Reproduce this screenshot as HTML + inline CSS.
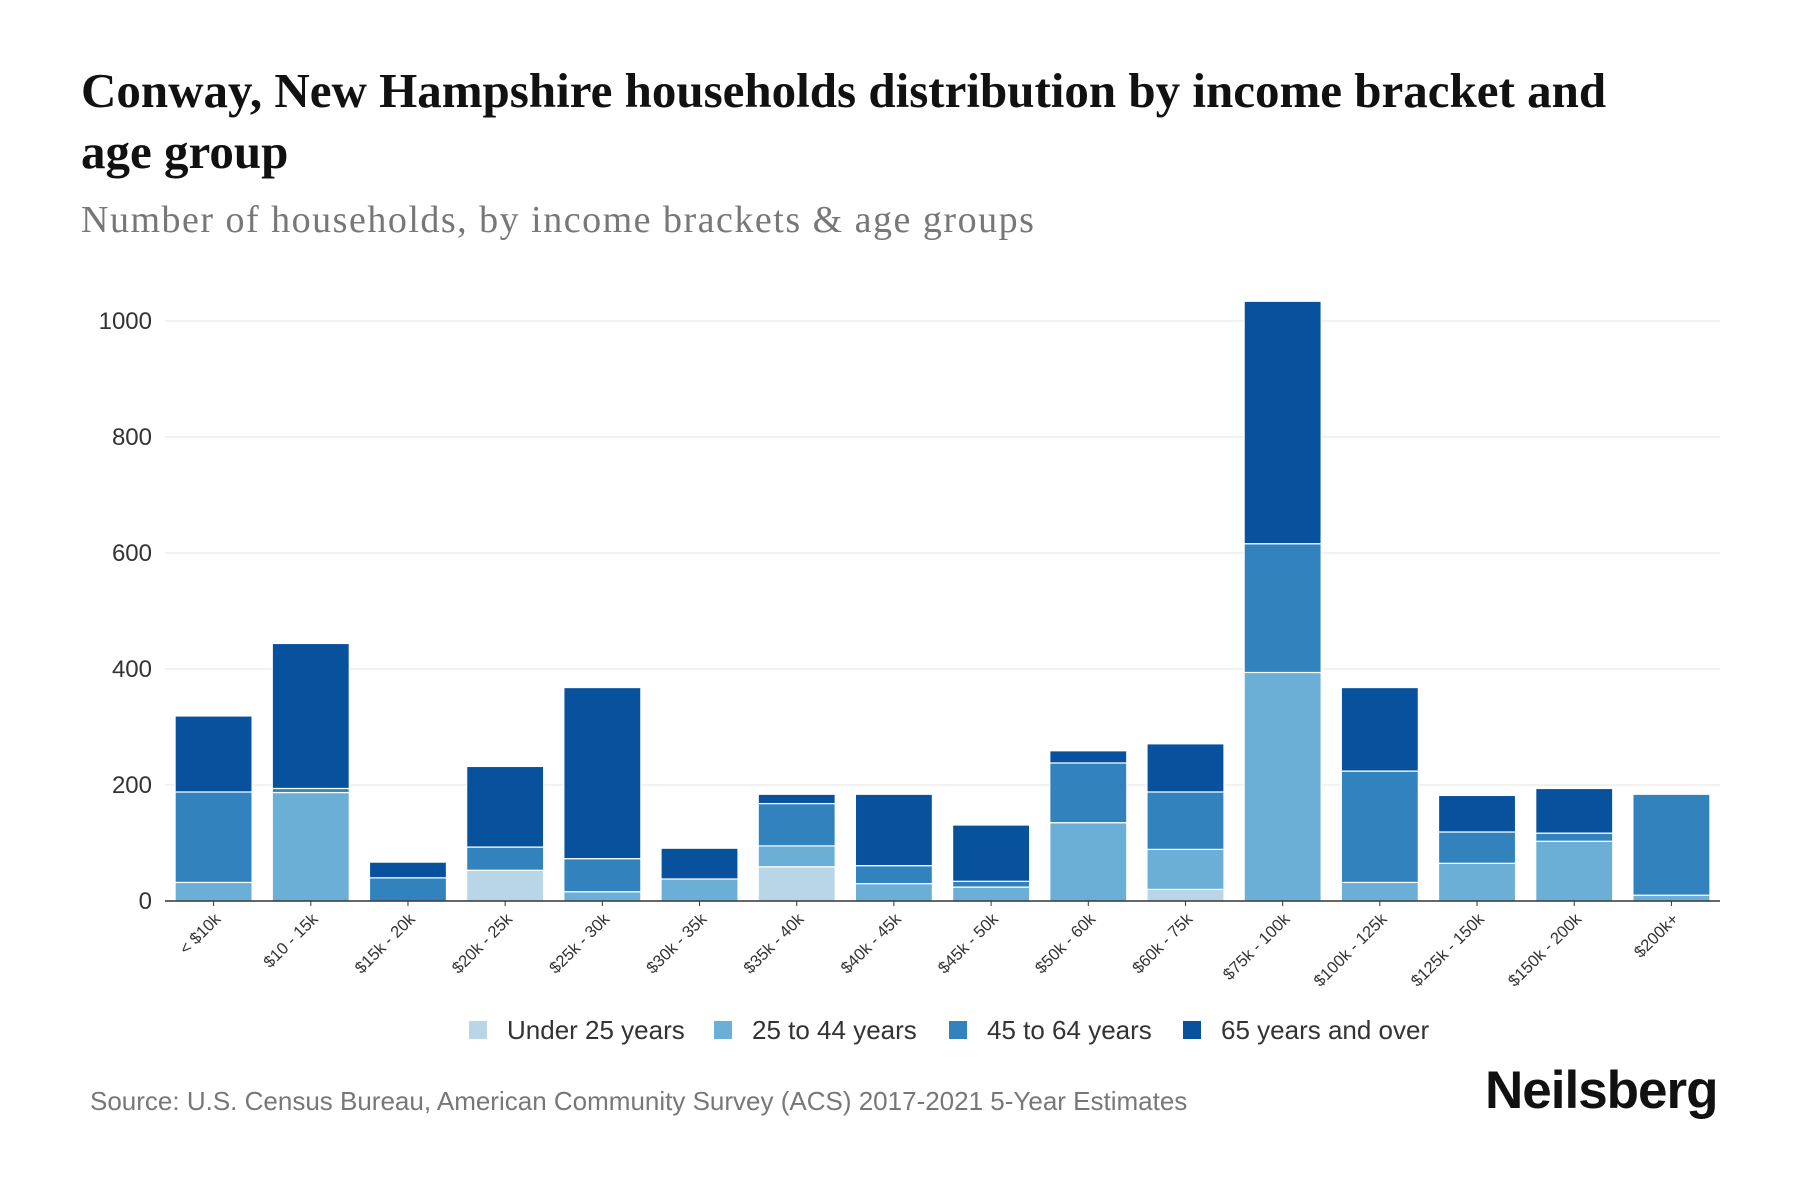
<!DOCTYPE html>
<html><head><meta charset="utf-8"><style>
body{margin:0;width:1800px;height:1200px;background:#fff;overflow:hidden;position:relative;font-family:"Liberation Sans",sans-serif}
#title{position:absolute;left:81px;top:60px;width:1580px;font-family:"Liberation Serif",serif;font-weight:bold;font-size:49px;line-height:61px;color:#111}
#subtitle{position:absolute;left:81px;top:198px;font-family:"Liberation Serif",serif;font-size:38px;letter-spacing:1.5px;color:#777}
#source{position:absolute;left:90px;top:1086px;font-size:26px;color:#777}
#logo{position:absolute;left:1485px;top:1060px;font-size:53px;font-weight:bold;color:#111;letter-spacing:-1px}
svg{position:absolute;left:0;top:0}
</style></head><body>
<div id="title">Conway, New Hampshire households distribution by income bracket and age group</div>
<div id="subtitle">Number of households, by income brackets &amp; age groups</div>
<svg id="chart" width="1800" height="1200"></svg>
<div id="source">Source: U.S. Census Bureau, American Community Survey (ACS) 2017-2021 5-Year Estimates</div>
<div id="logo">Neilsberg</div>
<script>
const categories=["< $10k","$10 - 15k","$15k - 20k","$20k - 25k","$25k - 30k","$30k - 35k","$35k - 40k","$40k - 45k","$45k - 50k","$50k - 60k","$60k - 75k","$75k - 100k","$100k - 125k","$125k - 150k","$150k - 200k","$200k+"];
const under25=[0,0,0,53,0,0,59,0,0,0,20,0,0,0,0,0];
const age25to44=[32,187,0,0,16,38,36,30,24,135,69,394,32,65,103,10];
const age45to64=[156,7,40,40,57,0,73,31,10,103,99,222,192,54,14,174];
const age65plus=[131,250,27,139,295,53,16,123,97,21,83,418,144,63,77,0];
const yTicks=[0,200,400,600,800,1000];
const seriesNames=["Under 25 years","25 to 44 years","45 to 64 years","65 years and over"];
const series=[under25,age25to44,age45to64,age65plus];
const colors=["#b9d6e8","#6baed6","#3182bd","#08519c"];

const NS="http://www.w3.org/2000/svg";
const svg=document.getElementById('chart');
const x0=165,x1=1720,yBase=901,yTop=321;
const step=(x1-x0)/categories.length, bw=77;
const y=v=>yBase-(v/1000)*(yBase-yTop);
const xc=i=>x0+step*(i+0.5);
function mk(t,a){const e=document.createElementNS(NS,t);for(const k in a)e.setAttribute(k,a[k]);svg.appendChild(e);return e;}
yTicks.forEach(t=>{
  if(t>0){const g=mk('line',{x1:x0,x2:x1,y1:y(t),y2:y(t),stroke:'#eeeeee','stroke-width':1.5});
  
  }
  const l=mk('text',{x:152,y:y(t)+8,'text-anchor':'end','font-size':24,fill:'#333','font-family':'Liberation Sans, sans-serif'});
  l.textContent=t;
  
  
});
categories.forEach((c,i)=>{
  let acc=0;
  series.forEach((s,k)=>{
    const v=s[i]; if(v<=0) return;
    const r=mk('rect',{x:xc(i)-bw/2,y:y(acc+v),width:bw,height:y(acc)-y(acc+v),fill:colors[k],stroke:'#fff','stroke-width':1.2});
    
    
    acc+=v;
  });
  const tk=mk('line',{x1:xc(i),x2:xc(i),y1:yBase,y2:yBase+5,stroke:'#333','stroke-width':1});
  
  
  const tx=xc(i)+8,ty=920;
  const l=mk('text',{x:tx,y:ty,'text-anchor':'end','font-size':16.5,fill:'#333',transform:`rotate(-45 ${tx} ${ty})`,'font-family':'Liberation Sans, sans-serif'});
  l.textContent=c;
  
  
});
const ax=mk('line',{x1:x0,x2:x1,y1:yBase,y2:yBase,stroke:'#333','stroke-width':1.5});


const legX=[469,714,949,1183];
seriesNames.forEach((n,k)=>{
  const r=mk('rect',{x:legX[k],y:1021,width:18,height:18,fill:colors[k]});
  
  
  const t=mk('text',{x:legX[k]+38,y:1039,'font-size':26,fill:'#333','font-family':'Liberation Sans, sans-serif'});
  t.textContent=n;
  
  
});
</script>
</body></html>
